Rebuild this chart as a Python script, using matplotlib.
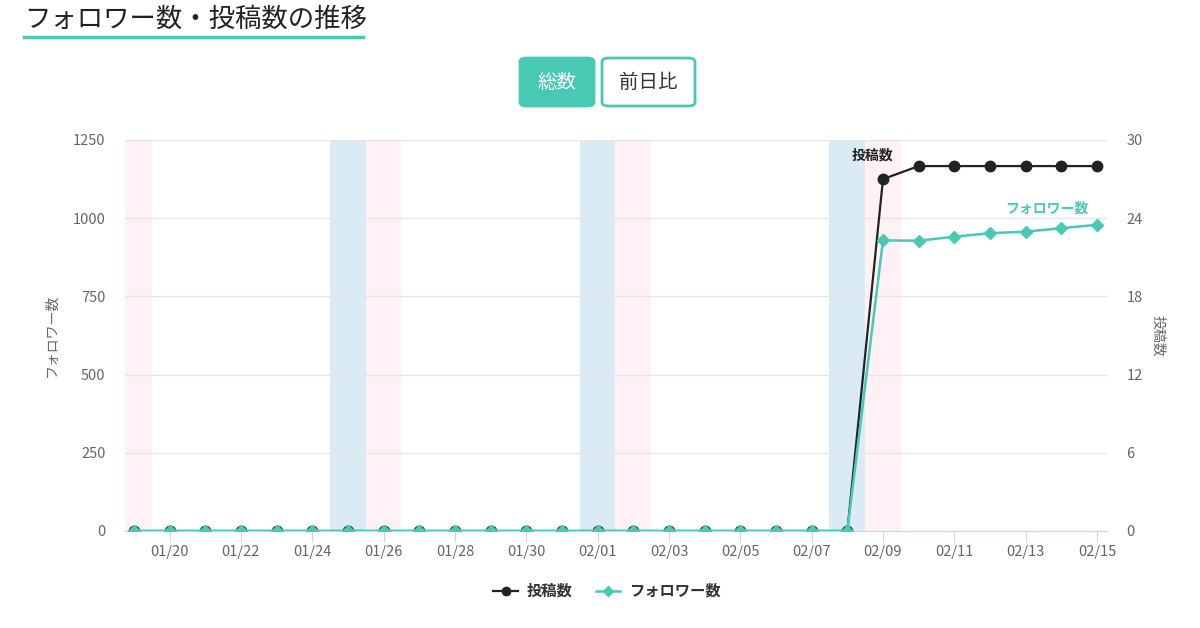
import numpy as np
import matplotlib.pyplot as plt
from matplotlib.patches import FancyBboxPatch
from matplotlib.lines import Line2D

plt.rcParams['font.family'] = ['Noto Sans CJK JP', 'DejaVu Sans']

# データ
dates = ['01/19', '01/20', '01/21', '01/22', '01/23', '01/24', '01/25', '01/26',
         '01/27', '01/28', '01/29', '01/30', '01/31', '02/01', '02/02', '02/03',
         '02/04', '02/05', '02/06', '02/07', '02/08', '02/09', '02/10', '02/11',
         '02/12', '02/13', '02/14', '02/15']
posts = [0] * 21 + [27, 28, 28, 28, 28, 28, 28]
followers = [0] * 21 + [929, 928, 941, 952, 957, 968, 979]
saturdays = ['01/25', '02/01', '02/08']
sundays = ['01/19', '01/26', '02/02', '02/09']

teal = '#48c9b4'
black = '#222222'
grey_txt = '#666666'

x = np.arange(len(dates))

fig = plt.figure(figsize=(12, 6.28), dpi=100)
ax2 = fig.add_axes([125/1200, 1-531/628, (1107-125)/1200, (531-140)/628])
ax = ax2.twinx()
ax.set_zorder(2)
ax2.set_zorder(1)
ax.patch.set_visible(False)

# 週末の帯
for d in saturdays:
    i = dates.index(d)
    ax2.axvspan(i-0.5, i+0.5, color='#daebf5', lw=0, zorder=0)
for d in sundays:
    i = dates.index(d)
    ax2.axvspan(i-0.5, i+0.5, color='#fff1f4', lw=0, zorder=0)

ax2.set_xlim(-0.25, 27.28)
ax2.set_ylim(0, 30)
ax2.set_yticks(np.arange(0, 31, 6))
ax2.yaxis.grid(True, color='#e6e6e6', lw=1, zorder=0.5)
ax2.set_axisbelow(True)

ax2.plot(x, posts, '-o', color=black, lw=1.6, ms=7.5, zorder=3)
ax.plot(x, followers, '-D', color=teal, lw=1.8, ms=6.2, zorder=4)
ax.set_ylim(0, 1250)
ax.set_yticks(np.arange(0, 1251, 250))

# 軸の左右を入れ替え (フォロワー数を左)
ax.yaxis.tick_left()
ax.yaxis.set_label_position('left')
ax2.yaxis.tick_right()
ax2.yaxis.set_label_position('right')

for a in (ax, ax2):
    for s in a.spines.values():
        s.set_visible(False)
    a.tick_params(axis='y', length=0, labelsize=10.5, labelcolor=grey_txt, pad=14)
ax2.spines['bottom'].set_visible(True)
ax2.spines['bottom'].set_color('#ccd6eb')

ax2.set_xticks(x[1::2])
ax2.set_xticklabels(dates[1::2])
ax2.tick_params(axis='x', length=8, color='#ccd6eb', labelsize=10.5,
                labelcolor=grey_txt, pad=2)
ax.tick_params(axis='x', bottom=False, labelbottom=False)

ax.set_ylabel('フォロワー数', fontsize=10, color=grey_txt, labelpad=10)
ax2.set_ylabel('投稿数', fontsize=10, color=grey_txt, rotation=270, labelpad=16)

# 系列ラベル
ax2.text(20.72, 28.8, '投稿数', fontsize=10, fontweight='bold', color=black,
         ha='center', va='center')
ax.text(25.6, 1032, 'フォロワー数', fontsize=10, fontweight='bold', color=teal,
        ha='center', va='center')

# 凡例
handles = [Line2D([], [], color=black, marker='o', lw=1.6, ms=6),
           Line2D([], [], color=teal, marker='D', lw=1.8, ms=5)]
leg = fig.legend(handles, ['投稿数', 'フォロワー数'], loc='center',
                 bbox_to_anchor=(607/1200, 1-591/628), ncol=2, frameon=False,
                 handlelength=1.6, handletextpad=0.6, columnspacing=1.5,
                 prop={'size': 11, 'weight': 'bold'})
for t in leg.get_texts():
    t.set_color('#333333')

# タイトル
fig.text(24/1200, 1-19/628, 'フォロワー数・投稿数の推移', fontsize=19,
         color='#222222', ha='left', va='center')
fig.add_artist(Line2D([24/1200, 363/1200], [1-37/628, 1-37/628], color=teal, lw=2.5))

# ボタン
def button(x0, x1, y0, y1, label, filled):
    w, h = (x1-x0)/1200, (y1-y0)/628
    p = FancyBboxPatch((x0/1200, 1-y1/628), w, h,
                       boxstyle='round,pad=0,rounding_size=0.006',
                       transform=fig.transFigure,
                       facecolor=teal if filled else 'white',
                       edgecolor=teal, lw=2)
    fig.add_artist(p)
    fig.text((x0+x1)/2/1200, 1-(y0+y1)/2/628, label, fontsize=14,
             color='white' if filled else '#333333', ha='center', va='center')

button(520, 594, 58, 106, '総数', True)
button(602, 695, 58, 106, '前日比', False)

fig.savefig('out.png', dpi=100)
